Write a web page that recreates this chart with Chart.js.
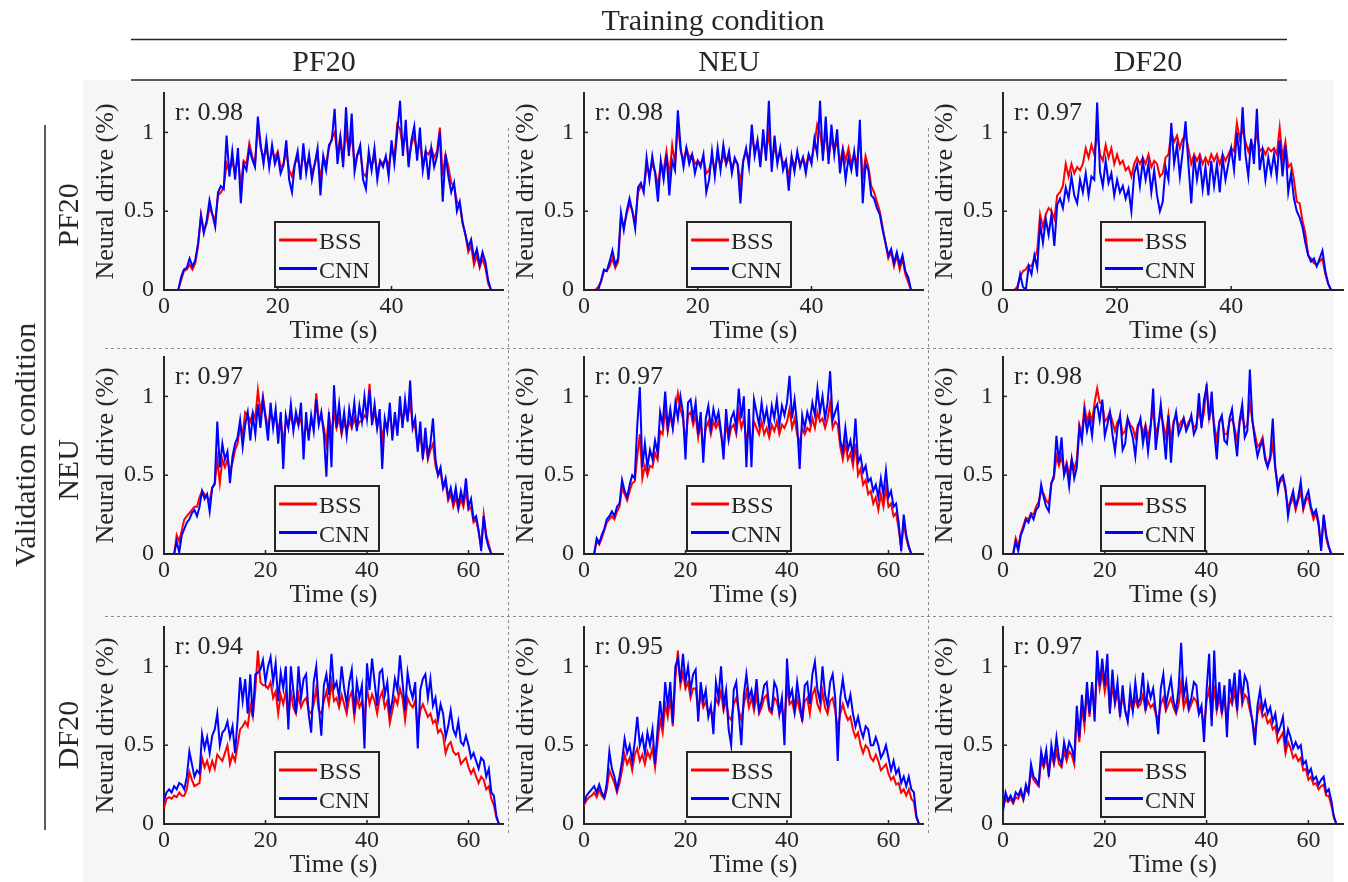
<!DOCTYPE html>
<html>
<head>
<meta charset="utf-8">
<script src="https://cdn.jsdelivr.net/npm/chart.js@4.4.1/dist/chart.umd.min.js"></script>
<style>
  body { margin: 0; width: 1348px; height: 882px; overflow: hidden; position: relative; background: #fff;
         font-family: "Liberation Serif", "Times New Roman", serif; color: #262626; }
  #bg { position: absolute; left: 83px; top: 80px; width: 1251px; height: 802px; background: #f6f6f6; }
  #deco { position: absolute; left: 0; top: 0; }
  .lbl { position: absolute; white-space: nowrap; line-height: 1; font-size: 30px; transform: translate(-50%, -50%); }
  .rot { transform: translate(-50%, -50%) rotate(-90deg); }
  canvas.panel { position: absolute; }
</style>
</head>
<body>
<div id="bg"></div>
<canvas id="deco" width="1348" height="882"></canvas>
<div id="labels"></div>

<script>
// time grid: one value every half second
var sampleStep = 0.5;

var trainingLabels = ['PF20', 'NEU', 'DF20'];
var validationLabels = ['PF20', 'NEU', 'DF20'];
var rValues = [
    ['0.98', '0.98', '0.97'],
    ['0.97', '0.97', '0.98'],
    ['0.94', '0.95', '0.97']
];
var yTicks = [0, 0.5, 1];
var xTicksByRow = [[0, 20, 40], [0, 20, 40, 60], [0, 20, 40, 60]];
var xMaxByRow = [59.6, 66.8, 66.8];

// ---- validation PF20 ----
var bssValPF20TrainPF20 = [
    0,0,0,0,0,0,.06,.12,.13,.16,
    .13,.17,.28,.48,.38,.42,.52,.48,.44,.6,
    .62,.65,.8,.75,.82,.74,.85,.66,.82,.8,
    .93,.85,.8,1.05,.9,.84,.9,.8,.88,.84,
    .88,.78,.8,.88,.76,.72,.8,.84,.75,.86,
    .78,.84,.74,.8,.86,.7,.84,.8,.9,.96,
    1.0,.86,.98,.82,1.0,.88,.98,.8,.86,.88,
    .74,.72,.85,.78,.86,.74,.82,.8,.84,.78,
    .9,.84,1.05,1.02,.9,1.0,.82,.92,.98,.86,
    .95,.78,.88,.86,.9,.84,.88,1.03,.72,.86,
    .78,.68,.66,.56,.54,.42,.35,.24,.28,.16,
    .22,.14,.2,.14,.04,0,0,0,0,0
];
var cnnValPF20TrainPF20 = [
    0,0,0,0,0,0,.08,.13,.14,.2,
    .15,.19,.3,.47,.36,.44,.57,.48,.4,.62,
    .66,.64,.98,.72,.88,.7,.9,.55,.8,.76,
    .9,.83,.78,1.1,.92,.8,.95,.78,.92,.8,
    .86,.74,.79,.95,.7,.62,.8,.88,.7,.93,
    .74,.86,.7,.8,.9,.6,.85,.76,.92,.95,
    1.15,.8,.96,.78,1.16,.85,1.12,.75,.86,.92,
    .7,.64,.88,.76,.9,.7,.82,.78,.85,.72,
    .95,.8,1.0,1.2,.85,1.08,.78,.95,1.04,.82,
    1.03,.76,.88,.7,.9,.78,.85,1.0,.56,.86,
    .72,.62,.68,.5,.56,.43,.35,.27,.32,.2,
    .26,.16,.24,.18,.06,0,0,0,0,0
];
var bssValPF20TrainNEU = [
    0,0,0,0,0,.02,.05,.12,.12,.15,
    .2,.14,.18,.46,.4,.48,.55,.5,.43,.62,
    .66,.64,.78,.74,.8,.75,.66,.8,.76,.88,
    .72,.92,.8,1.05,.88,.82,.9,.84,.86,.8,
    .82,.8,.84,.74,.76,.84,.76,.86,.78,.86,
    .8,.84,.78,.82,.8,.68,.82,.88,.82,.98,
    .88,.94,.82,.96,.86,1.0,.8,.92,.82,.88,
    .8,.82,.72,.84,.78,.86,.8,.84,.78,.86,
    .82,.92,1.05,1.0,.86,1.0,.84,.96,.88,.95,
    .8,.9,.82,.9,.8,.86,.8,.98,.7,.85,
    .78,.66,.62,.56,.5,.4,.3,.2,.24,.15,
    .22,.13,.2,.1,.05,0,0,0,0,0
];
var cnnValPF20TrainNEU = [
    0,0,0,0,0,0,.06,.13,.12,.18,
    .25,.16,.2,.49,.38,.5,.58,.5,.39,.65,
    .68,.62,.84,.7,.85,.74,.56,.82,.7,.86,
    .6,.82,.76,1.14,.9,.78,.9,.8,.86,.74,
    .82,.78,.86,.62,.7,.88,.72,.9,.76,.92,
    .8,.88,.74,.84,.8,.55,.82,.9,.78,1.05,
    .85,.95,.78,1.02,.82,1.2,.75,.98,.8,.9,
    .76,.82,.63,.85,.75,.88,.78,.84,.74,.86,
    .8,.96,.86,1.2,.82,1.1,.8,1.05,.86,1.02,
    .74,.88,.7,.84,.76,.88,.72,1.08,.55,.8,
    .76,.6,.58,.52,.48,.38,.3,.22,.26,.17,
    .24,.16,.22,.12,.08,0,0,0,0,0
];
var bssValPF20TrainDF20 = [
    0,0,0,0,0,.02,.08,.12,.13,.16,
    .15,.2,.25,.48,.4,.48,.52,.5,.45,.6,
    .62,.66,.8,.72,.8,.74,.78,.76,.8,.9,
    .84,.92,.86,1.0,.86,.82,.92,.84,.9,.8,
    .86,.8,.82,.76,.78,.72,.8,.84,.8,.84,
    .8,.86,.78,.82,.8,.72,.74,.84,.86,1.0,
    .94,.98,.9,.96,.98,.9,.8,.86,.82,.86,
    .8,.84,.8,.86,.82,.86,.8,.86,.82,.86,
    .9,.88,1.06,.96,1.02,.94,.88,.94,.9,1.0,
    .88,.9,.86,.9,.88,.9,.86,1.03,.84,.94,
    .78,.8,.7,.56,.55,.44,.36,.22,.2,.17,
    .16,.18,.2,.1,.04,0,0,0,0,0
];
var cnnValPF20TrainDF20 = [
    0,0,0,0,0,0,.1,.02,0,.15,
    .1,.22,.14,.42,.3,.45,.35,.48,.28,.54,
    .58,.52,.65,.58,.72,.6,.55,.7,.62,.74,
    .6,.72,.7,1.19,.75,.66,.82,.68,.74,.6,
    .7,.62,.66,.58,.64,.5,.74,.8,.66,.82,
    .7,.8,.62,.76,.6,.5,.56,.78,.7,1.06,
    .8,.92,.72,.88,1.07,.8,.55,.85,.7,.82,
    .64,.78,.6,.82,.66,.8,.62,.84,.7,.8,
    .9,.76,1.0,.82,1.16,.86,.72,.96,.8,1.15,
    .76,.88,.7,.84,.74,.86,.72,.95,.72,.92,
    .62,.74,.58,.5,.46,.4,.3,.22,.18,.2,
    .15,.2,.25,.12,.04,0,0,0,0,0
];

// ---- validation NEU ----
var bssValNEUTrainPF20 = [
    0,0,0,0,0,.12,.08,.15,.22,.24,
    .26,.28,.3,.3,.36,.4,.38,.36,.34,.42,
    .44,.6,.45,.6,.55,.6,.52,.58,.66,.7,
    .82,.76,.9,.88,.84,.9,.86,1.04,.9,1.0,
    .88,.8,.9,.84,.88,.78,.86,.7,.84,.82,
    .88,.8,.86,.82,.86,.72,.82,.76,.84,.8,
    1.02,.84,.88,.8,.7,.88,.76,.9,.8,.86,
    .76,.84,.78,.84,.8,.86,.8,.84,.84,.88,
    .86,1.08,.84,.9,.8,.88,.72,.84,.8,.9,
    .76,.86,.8,.92,.84,.92,.86,.96,.82,.8,
    .68,.76,.62,.72,.6,.66,.7,.56,.5,.52,
    .42,.45,.34,.38,.3,.36,.28,.35,.3,.4,
    .28,.3,.2,.22,.14,.05,.25,.12,.06,0,
    0,0,0,0
];
var cnnValNEUTrainPF20 = [
    0,0,0,0,0,.08,.01,.12,.16,.2,
    .22,.26,.28,.24,.3,.4,.35,.38,.27,.42,
    .45,.84,.55,.7,.6,.65,.45,.62,.7,.74,
    .85,.68,.82,.9,.72,.88,.76,.95,.8,.98,
    .86,.72,.96,.8,.92,.7,.9,.54,.88,.8,
    .95,.78,.9,.82,.96,.6,.9,.72,.88,.78,
    .98,.82,.9,.76,.49,.9,.55,1.07,.8,.95,
    .78,.9,.75,.92,.82,.96,.78,.94,.84,1.0,
    .86,1.04,.82,.95,.8,.92,.54,.86,.78,.96,
    .72,.9,.75,1.0,.8,.98,.84,1.1,.8,.86,
    .65,.84,.6,.8,.62,.7,.86,.6,.5,.55,
    .42,.48,.36,.42,.33,.42,.3,.4,.33,.48,
    .3,.35,.22,.24,.15,.02,.24,.1,.04,0,
    0,0,0,0
];
var bssValNEUTrainNEU = [
    0,0,0,0,0,.08,.06,.1,.15,.2,
    .22,.24,.22,.27,.3,.42,.38,.34,.4,.45,
    .46,.62,.76,.48,.56,.5,.56,.55,.64,.6,
    .78,.76,.92,.78,.88,.8,.92,1.02,.92,.86,
    .7,.88,.9,.82,.88,.74,.84,.66,.8,.84,
    .76,.84,.8,.84,.76,.66,.84,.72,.8,.82,
    .76,.9,.8,.86,.7,.82,.68,.84,.8,.76,
    .84,.76,.8,.74,.82,.78,.84,.76,.82,.8,
    .84,.92,.8,.86,.76,.7,.8,.76,.8,.78,
    .86,.8,.9,.84,.86,.8,.86,.96,.8,.84,
    .82,.68,.6,.7,.6,.64,.56,.7,.5,.54,
    .44,.47,.38,.4,.32,.36,.28,.38,.3,.42,
    .3,.32,.24,.26,.16,.04,.2,.1,.04,0,
    0,0,0,0
];
var cnnValNEUTrainNEU = [
    0,0,0,0,0,.1,.07,.12,.16,.22,
    .24,.27,.24,.3,.32,.47,.4,.36,.44,.5,
    .48,.82,1.06,.55,.7,.55,.66,.6,.72,.64,
    .9,.82,1.03,.8,.92,.8,.96,.86,1.0,.9,
    .6,.96,.98,.86,.96,.76,.9,.58,.86,.94,
    .8,.92,.84,.9,.78,.6,.92,.74,.86,.9,
    .8,1.05,.86,1.0,.55,.92,.55,.98,.9,.82,
    .96,.84,.92,.8,.94,.86,.98,.82,.94,.88,
    .96,1.13,.86,.98,.82,.54,.88,.8,.9,.84,
    .96,.88,1.05,.9,1.0,.86,.96,1.16,.85,.9,
    .95,.72,.65,.8,.66,.72,.62,.86,.58,.62,
    .52,.56,.46,.48,.4,.44,.36,.48,.38,.53,
    .36,.4,.3,.32,.2,.02,.25,.12,.05,0,
    0,0,0,0
];
var bssValNEUTrainDF20 = [
    0,0,0,0,0,.1,.05,.13,.18,.23,
    .22,.26,.25,.3,.33,.4,.38,.34,.32,.45,
    .48,.62,.56,.62,.52,.58,.5,.6,.54,.6,
    .82,.76,.94,.84,.9,.84,.96,1.05,.96,.96,
    .84,.86,.9,.84,.78,.84,.86,.76,.78,.86,
    .82,.8,.74,.82,.84,.76,.82,.74,.82,.92,
    .76,.82,.9,.82,.74,.88,.72,.84,.88,.8,
    .84,.86,.8,.84,.86,.8,.82,.92,.82,.9,
    1.08,.86,.94,.82,.72,.84,.86,.76,.76,.84,
    .86,.8,.72,.84,.88,.8,.82,.96,.84,.76,
    .68,.7,.74,.62,.56,.6,.7,.54,.44,.46,
    .48,.4,.3,.32,.36,.28,.34,.4,.28,.34,
    .36,.28,.22,.26,.18,.04,.24,.1,.04,0,
    0,0,0,0
];
var cnnValNEUTrainDF20 = [
    0,0,0,0,0,.08,.02,.12,.16,.22,
    .2,.25,.22,.28,.3,.44,.36,.3,.27,.45,
    .5,.75,.58,.74,.5,.56,.43,.6,.48,.55,
    .8,.72,.9,.78,.86,.75,.92,.95,.85,.98,
    .75,.82,.9,.76,.65,.8,.88,.66,.7,.86,
    .8,.74,.62,.8,.86,.7,.8,.65,.8,1.05,
    .66,.8,.95,.78,.6,.88,.58,.82,.9,.76,
    .8,.86,.78,.82,.88,.76,.8,1.02,.8,.98,
    1.06,.85,1.03,.78,.6,.84,.88,.72,.7,.86,
    .92,.76,.62,.85,.95,.74,.78,1.17,.85,.72,
    .62,.68,.72,.6,.55,.62,.86,.55,.4,.48,
    .5,.42,.24,.34,.4,.3,.36,.46,.3,.36,
    .4,.3,.25,.28,.2,.02,.25,.12,.05,0,
    0,0,0,0
];

// ---- validation DF20 ----
var bssValDF20TrainPF20 = [
    .1,.16,.17,.16,.18,.17,.2,.18,.18,.22,
    .33,.28,.24,.25,.26,.42,.36,.4,.34,.4,
    .35,.44,.42,.4,.45,.5,.38,.44,.4,.5,
    .6,.62,.65,.62,.75,.68,.85,1.1,.9,.88,
    .88,.86,.9,.8,.84,.7,.82,.76,.84,.66,
    .84,.74,.7,.82,.74,.78,.8,.72,.7,.76,
    .86,.72,.7,.78,.84,.76,.9,.78,.8,.74,
    .82,.76,.7,.8,.84,.68,.8,.74,.78,.66,
    .86,.76,.82,.78,.7,.8,.84,.74,.78,.64,
    .72,.8,.76,.86,.8,.66,.8,.76,.74,.78,
    .6,.72,.76,.72,.68,.7,.64,.66,.58,.6,
    .56,.45,.5,.52,.46,.44,.45,.38,.4,.42,
    .36,.32,.35,.3,.26,.3,.28,.22,.24,.16,
    .12,.04,0,0
];
var cnnValDF20TrainPF20 = [
    .15,.2,.22,.2,.24,.22,.26,.25,.22,.3,
    .46,.38,.3,.34,.32,.57,.48,.55,.45,.56,
    .6,.7,.5,.58,.6,.65,.55,.62,.45,.66,
    .93,.78,.92,.7,.95,.68,.95,.96,.98,1.04,
    .9,1.0,1.06,.9,1.02,.78,.96,.86,1.0,.6,
    1.0,.84,.7,1.0,.8,.92,.95,.7,.58,.9,
    1.0,.75,.56,.88,.95,.82,1.08,.86,.9,.8,
    1.0,.86,.76,.9,.98,.7,.9,.8,.88,.48,
    1.02,.85,1.05,.9,.75,.96,.98,.82,.9,.7,
    .78,.92,.85,1.07,.9,.72,.96,.86,.8,.9,
    .48,.85,.92,.95,.8,.92,.75,.8,.66,.76,
    .7,.55,.62,.72,.6,.56,.65,.52,.5,.56,
    .5,.42,.45,.4,.35,.42,.4,.3,.35,.2,
    .18,.05,0,0
];
var bssValDF20TrainNEU = [
    .12,.15,.17,.18,.2,.17,.22,.18,.16,.22,
    .34,.3,.26,.2,.26,.34,.44,.38,.42,.34,
    .44,.48,.4,.44,.38,.46,.42,.48,.36,.52,
    .66,.58,.76,.68,.8,.62,.92,1.1,.88,.96,
    .86,.9,.8,.86,.86,.72,.82,.74,.78,.7,
    .72,.68,.8,.76,.84,.72,.78,.68,.66,.76,
    .8,.72,.66,.76,.84,.74,.8,.72,.82,.7,
    .74,.8,.82,.72,.7,.8,.78,.7,.74,.64,
    .88,.76,.78,.7,.8,.72,.66,.78,.8,.7,
    .82,.86,.76,.72,.84,.74,.7,.78,.8,.72,
    .6,.7,.76,.7,.66,.68,.6,.55,.58,.5,
    .45,.5,.48,.42,.4,.44,.4,.34,.36,.38,
    .32,.28,.3,.25,.26,.2,.22,.18,.22,.16,
    .14,.04,0,0
];
var cnnValDF20TrainNEU = [
    .13,.18,.2,.22,.24,.2,.25,.2,.17,.26,
    .46,.35,.3,.22,.3,.4,.54,.45,.5,.4,
    .52,.68,.5,.56,.45,.58,.5,.6,.38,.6,
    .78,.62,.9,.75,.9,.64,1.0,1.05,.9,1.08,
    .9,1.0,.85,.95,.98,.65,.9,.78,.85,.68,
    .75,.57,.9,.8,1.0,.75,.85,.6,.5,.85,
    .9,.7,.5,.82,.95,.8,.85,.76,.92,.72,
    .78,.88,.9,.74,.72,.9,.86,.7,.8,.5,
    1.05,.8,.85,.72,.9,.78,.65,.88,.9,.76,
    .95,1.03,.85,.78,1.0,.82,.75,.9,.95,.8,
    .4,.8,.92,.8,.75,.82,.7,.62,.68,.6,
    .55,.62,.6,.5,.5,.55,.5,.42,.45,.5,
    .42,.34,.4,.32,.35,.26,.3,.24,.3,.22,
    .2,.05,0,0
];
var bssValDF20TrainDF20 = [
    .1,.16,.14,.16,.13,.17,.16,.2,.15,.22,
    .2,.33,.28,.26,.24,.4,.36,.42,.32,.44,
    .38,.46,.38,.36,.46,.4,.46,.44,.38,.68,
    .52,.74,.62,.84,.68,.88,.7,1.0,.86,.96,
    .84,.94,.72,.88,.76,.84,.7,.82,.72,.66,
    .78,.72,.8,.74,.76,.82,.72,.78,.74,.76,
    .7,.66,.76,.8,.72,.76,.8,.74,.7,.76,
    .9,.74,.8,.72,.76,.8,.78,.7,.72,.62,
    .78,.86,.66,.88,.72,.8,.7,.8,.64,.8,
    .76,.84,.72,.94,.76,.82,.8,.72,.66,.56,
    .7,.76,.68,.7,.64,.66,.6,.62,.52,.55,
    .58,.45,.52,.48,.42,.44,.4,.42,.34,.35,
    .28,.3,.25,.26,.22,.24,.25,.18,.18,.12,
    .04,0,0,0
];
var cnnValDF20TrainDF20 = [
    .08,.2,.15,.18,.14,.2,.18,.22,.16,.25,
    .2,.38,.3,.28,.25,.46,.38,.47,.3,.5,
    .4,.55,.42,.38,.52,.44,.52,.48,.42,.75,
    .55,.82,.65,.9,.7,.9,.65,1.1,.88,1.05,
    .88,1.08,.7,.98,.78,.9,.68,.88,.72,.65,
    .85,.72,.9,.76,.8,.96,.72,.88,.8,.86,
    .72,.57,.86,.95,.75,.84,.92,.78,.72,.86,
    1.15,.8,.9,.74,.8,.9,.88,.7,.75,.52,
    .85,1.08,.62,1.1,.72,.9,.7,.88,.55,.92,
    .8,.96,.72,.98,.8,.94,.9,.76,.65,.5,
    .75,.85,.72,.78,.7,.74,.65,.7,.58,.62,
    .68,.5,.6,.55,.48,.52,.48,.5,.38,.4,
    .32,.35,.28,.3,.25,.28,.3,.2,.22,.15,
    .05,0,0,0
];

var seriesGrid = [
    [[bssValPF20TrainPF20, cnnValPF20TrainPF20], [bssValPF20TrainNEU, cnnValPF20TrainNEU], [bssValPF20TrainDF20, cnnValPF20TrainDF20]],
    [[bssValNEUTrainPF20, cnnValNEUTrainPF20], [bssValNEUTrainNEU, cnnValNEUTrainNEU], [bssValNEUTrainDF20, cnnValNEUTrainDF20]],
    [[bssValDF20TrainPF20, cnnValDF20TrainPF20], [bssValDF20TrainNEU, cnnValDF20TrainNEU], [bssValDF20TrainDF20, cnnValDF20TrainDF20]]
];

// layout (px)
var plotLefts = [164, 584, 1003];
var plotWidths = [339, 339, 340];
var plotTops = [93, 357, 627];
var plotH = 197;
var yBoxW = 90, xBoxH = 62, padTop = 10, padRight = 6;
var legendOffsets = [111, 103, 98];
var legendGaps = [3, 3, 7];
var ink = '#262626';
var figBg = '#f6f6f6';
var fontFamily = '"Liberation Serif", "Times New Roman", serif';

function toPoints(values) {
    return values.map(function (v, i) { return { x: i * sampleStep, y: v }; });
}

var panelDecor = {
    id: 'panelDecor',
    afterDatasetsDraw: function (chart, args, opts) {
        var ctx = chart.ctx, a = chart.chartArea;
        var xs = chart.scales.x, ys = chart.scales.y;
        ctx.save();
        // inward tick marks
        ctx.strokeStyle = ink;
        ctx.lineWidth = 1.5;
        xs.ticks.forEach(function (t) {
            if (t.value === 0) return;
            var px = xs.getPixelForValue(t.value);
            ctx.beginPath(); ctx.moveTo(px, a.bottom); ctx.lineTo(px, a.bottom - 4); ctx.stroke();
        });
        ys.ticks.forEach(function (t) {
            if (t.value === 0) return;
            var py = ys.getPixelForValue(t.value);
            ctx.beginPath(); ctx.moveTo(a.left, py); ctx.lineTo(a.left + 4, py); ctx.stroke();
        });
        // correlation
        ctx.fillStyle = ink;
        ctx.font = '26px ' + fontFamily;
        ctx.textAlign = 'left';
        ctx.textBaseline = 'alphabetic';
        ctx.fillText('r: ' + opts.r, a.left + 11, a.top + 26.5);
        // legend box
        var bw = 104, bh = 65;
        var bx = a.left + opts.legendX, by = a.bottom - opts.legendGap - bh;
        ctx.fillStyle = figBg;
        ctx.fillRect(bx, by, bw, bh);
        ctx.lineWidth = 2;
        ctx.strokeStyle = ink;
        ctx.strokeRect(bx, by, bw, bh);
        ctx.font = '24px ' + fontFamily;
        chart.data.datasets.forEach(function (ds, i) {
            var ly = by + 18 + i * 28.5;
            ctx.strokeStyle = ds.borderColor;
            ctx.lineWidth = 3;
            ctx.beginPath(); ctx.moveTo(bx + 4, ly); ctx.lineTo(bx + 42, ly); ctx.stroke();
            ctx.fillStyle = ink;
            ctx.fillText(ds.label, bx + 44, ly + 9);
        });
        ctx.restore();
    }
};

function makePanel(row, col) {
    var cv = document.createElement('canvas');
    cv.className = 'panel';
    var w = yBoxW + plotWidths[col] + padRight;
    var h = padTop + plotH + xBoxH;
    cv.width = w; cv.height = h;
    cv.style.width = w + 'px'; cv.style.height = h + 'px';
    cv.style.left = (plotLefts[col] - yBoxW) + 'px';
    cv.style.top = (plotTops[row] - padTop) + 'px';
    document.body.appendChild(cv);

    var pair = seriesGrid[row][col];
    var xTicks = xTicksByRow[row];
    var tickFont = { family: fontFamily, size: 24 };
    var titleFont = { family: fontFamily, size: 26 };

    return new Chart(cv, {
        type: 'line',
        data: {
            datasets: [
                { label: 'BSS', data: toPoints(pair[0]), borderColor: '#ff0000', borderWidth: 2, pointRadius: 0, tension: 0, order: 2 },
                { label: 'CNN', data: toPoints(pair[1]), borderColor: '#0000ff', borderWidth: 2, pointRadius: 0, tension: 0, order: 1 }
            ]
        },
        options: {
            responsive: false,
            animation: false,
            devicePixelRatio: 1,
            layout: { padding: { top: padTop, right: padRight, left: 0, bottom: 0 } },
            plugins: {
                legend: { display: false },
                tooltip: { enabled: false },
                panelDecor: { r: rValues[row][col], legendX: legendOffsets[col], legendGap: legendGaps[row] }
            },
            scales: {
                x: {
                    type: 'linear', min: 0, max: xMaxByRow[row],
                    afterBuildTicks: function (s) { s.ticks = xTicks.map(function (v) { return { value: v }; }); },
                    afterFit: function (s) { s.height = xBoxH; s.paddingLeft = 0; s.paddingRight = 0; },
                    grid: { display: false, drawTicks: false },
                    border: { display: true, color: ink, width: 2 },
                    ticks: { font: tickFont, color: ink, padding: 2, maxRotation: 0, autoSkip: false,
                             callback: function (v) { return String(v); } },
                    title: { display: true, text: 'Time (s)', font: titleFont, color: ink, padding: { top: 0, bottom: 5 } }
                },
                y: {
                    min: 0, max: 1.25,
                    afterBuildTicks: function (s) { s.ticks = yTicks.map(function (v) { return { value: v }; }); },
                    afterFit: function (s) { s.width = yBoxW; s.paddingTop = 0; s.paddingBottom = 0; },
                    grid: { display: false, drawTicks: false },
                    border: { display: true, color: ink, width: 2 },
                    ticks: { font: tickFont, color: ink, padding: 10, autoSkip: false,
                             callback: function (v) { return String(v); } },
                    title: { display: true, text: 'Neural drive (%)', font: titleFont, color: ink, padding: { top: 17, bottom: 0 } }
                }
            }
        },
        plugins: [panelDecor]
    });
}

// frame lines and separators
function drawDeco() {
    var ctx = document.getElementById('deco').getContext('2d');
    ctx.strokeStyle = ink;
    ctx.lineWidth = 1.5;
    [39.5, 80].forEach(function (y) {
        ctx.beginPath(); ctx.moveTo(131, y); ctx.lineTo(1287, y); ctx.stroke();
    });
    ctx.beginPath(); ctx.moveTo(45, 125); ctx.lineTo(45, 830); ctx.stroke();

    ctx.strokeStyle = '#8c8c8c';
    ctx.lineWidth = 1;
    ctx.setLineDash([3, 3]);
    [508.5, 928.5].forEach(function (x) {
        ctx.beginPath(); ctx.moveTo(x, 128); ctx.lineTo(x, 833); ctx.stroke();
    });
    [348.5, 616.5].forEach(function (y) {
        ctx.beginPath(); ctx.moveTo(105, y); ctx.lineTo(1332, y); ctx.stroke();
    });
}

function addLabel(text, x, y, rotated) {
    var d = document.createElement('div');
    d.className = 'lbl' + (rotated ? ' rot' : '');
    d.textContent = text;
    d.style.left = x + 'px';
    d.style.top = y + 'px';
    document.getElementById('labels').appendChild(d);
}

drawDeco();
addLabel('Training condition', 713, 20, false);
var headerX = [324, 729, 1148];
trainingLabels.forEach(function (t, i) { addLabel(t, headerX[i], 61, false); });
addLabel('Validation condition', 25, 445, true);
var rowLabelY = [215, 470, 735];
validationLabels.forEach(function (t, i) { addLabel(t, 68, rowLabelY[i], true); });

for (var r = 0; r < 3; r++) {
    for (var c = 0; c < 3; c++) {
        makePanel(r, c);
    }
}
</script>
</body>
</html>
